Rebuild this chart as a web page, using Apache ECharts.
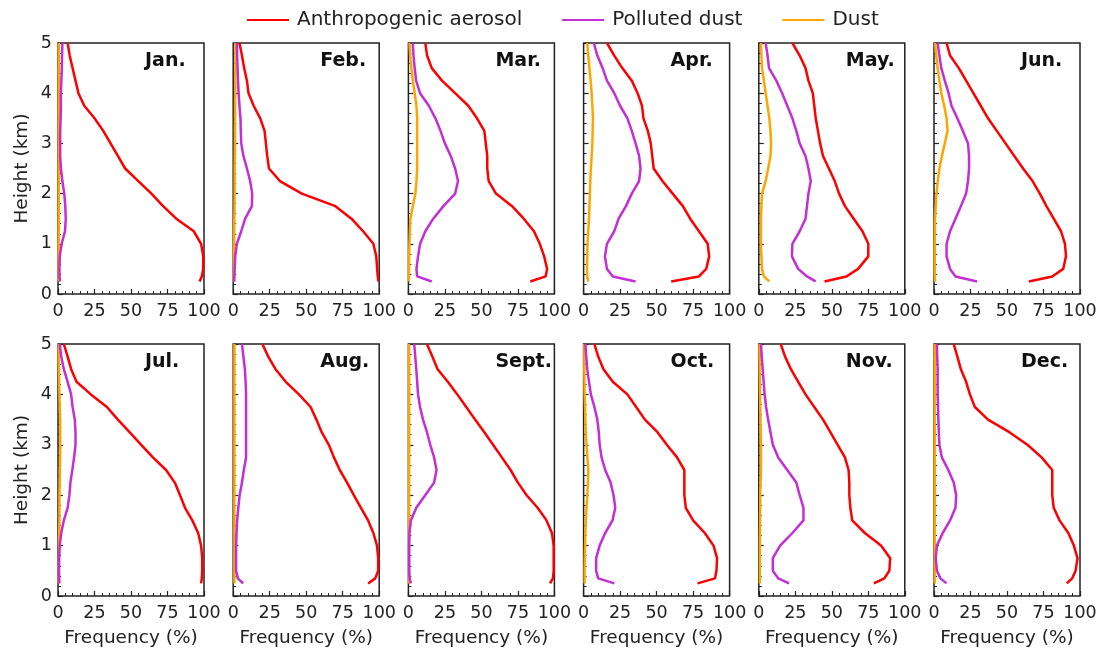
<!DOCTYPE html>
<html>
<head>
<meta charset="utf-8">
<script src="https://cdn.jsdelivr.net/npm/echarts@6/dist/echarts.min.js"></script>
<style>html,body{margin:0;padding:0;background:#fff;}#c{width:1106px;height:655px;}</style>
</head>
<body>
<div id="c"></div>
<script>
// Heights (km), bottom to top
const heights = [0.25, 0.35, 0.5, 0.75, 1.0, 1.25, 1.5, 1.75, 2.0, 2.25, 2.5, 2.75, 3.0, 3.25, 3.5, 3.75, 4.0, 4.25, 4.5, 4.75, 5.0];
const months = ['Jan.', 'Feb.', 'Mar.', 'Apr.', 'May.', 'Jun.', 'Jul.', 'Aug.', 'Sept.', 'Oct.', 'Nov.', 'Dec.'];
const xTicks = [0, 25, 50, 75, 100];
const yTicks = [0, 1, 2, 3, 4, 5];
const seriesNames = ['Anthropogenic aerosol', 'Polluted dust', 'Dust'];

// Frequency (%) per month, at the heights above
const anthropogenic = [
  [97, 98.5, 99.5, 99.5, 98, 93, 81, 72, 64, 55, 46, 41, 36, 31, 25, 18, 14, 12, 10, 8, 6.6],
  [99.5, 99, 98.6, 98, 96, 89, 81, 70, 47, 32, 24.5, 23.3, 22.4, 21.5, 18.5, 14, 10.5, 9.4, 7.5, 6, 4.3],
  [83.5, 94, 95, 93, 90, 86, 79, 71, 60, 55, 54, 54, 53, 52, 47, 41, 32, 23, 16, 12.8, 11.6],
  [60, 79, 84, 86, 85, 79, 73, 68, 61, 54, 48, 47, 46, 44, 41, 40, 37, 33, 26.5, 21, 16],
  [45, 60, 68, 75, 75, 71, 65, 59, 55, 52, 48, 44, 42, 40.5, 39, 38, 37, 34, 32, 28, 23],
  [65, 81, 88.5, 90.4, 89.7, 87, 82, 77, 72.5, 67.5, 61, 55, 49, 43, 37, 32, 27, 22, 17, 11, 8.6],
  [98, 98.5, 98.8, 98.8, 98, 96, 92, 87, 83.6, 80, 74, 65, 57, 49, 41, 33.5, 22.5, 12.7, 9, 6.6, 4],
  [92.4, 97.3, 99.3, 99.3, 98.5, 96, 92.4, 87.5, 82.6, 78, 73, 69, 65.5, 60.6, 57, 53, 45, 36, 29, 24, 20],
  [97, 99, 99.5, 99.5, 99.5, 98.3, 94.6, 88.5, 81, 75, 70, 64, 58, 52, 45.7, 39.6, 33.5, 27, 20, 16.4, 12.7],
  [78, 90, 91, 91.4, 89, 83, 75, 70, 69, 69, 69, 64, 57, 50.6, 42, 36, 30, 20, 13.6, 10, 7.4],
  [78.8, 86, 89.4, 90, 83.7, 72.6, 64, 62.7, 62, 62, 61.5, 59, 54, 49, 44, 38, 32, 27, 22, 18, 15],
  [91, 94.6, 97, 98.3, 95.8, 92, 86, 82, 81, 81, 81, 73.7, 64, 51.6, 37, 28, 24.6, 22, 18.4, 16, 13.5]
];
const pollutedDust = [
  [1.4, 1, 1, 1.2, 2.5, 4.8, 5.3, 5, 4.3, 3, 2, 1.5, 1.5, 1.5, 1.8, 2, 2, 2.3, 2.6, 2.8, 3],
  [0.7, 0.8, 1, 1.4, 2.5, 5.5, 8.2, 12.8, 13, 11.6, 9.4, 7, 5.5, 5.2, 5, 4.3, 3.7, 3.3, 3, 2.7, 2.5],
  [16, 6, 5.5, 6.6, 8, 11.6, 17, 24, 32, 34, 32, 29, 25, 22, 18.5, 14, 8, 5.3, 4.3, 3.5, 3],
  [35.6, 20, 16, 14.6, 16, 21, 24, 29, 33, 38, 39, 38, 35.6, 33, 30, 25, 21, 16, 13, 9.4, 7],
  [39, 33, 27, 22.7, 23, 28, 32, 33, 34, 35.6, 34, 32, 28, 25.7, 23, 19.5, 16, 12, 7, 6, 4.7],
  [29.5, 14.7, 11, 8.6, 8.6, 11, 14.7, 18.4, 22, 23.3, 24, 24, 23.3, 19.7, 16, 12, 10, 7.4, 5, 3.7, 2.5],
  [1, 0.8, 0.7, 0.8, 1.2, 2.2, 4, 6.6, 7.8, 8.5, 9.8, 11, 12, 12, 11.5, 10, 9, 6.6, 4, 2.2, 1.2],
  [6.8, 3.2, 2, 2, 2, 2.3, 2.7, 3.5, 4.4, 6, 7.3, 8.8, 8.8, 8.8, 8.8, 8.8, 8.8, 8.5, 8, 7, 6],
  [1.7, 0.8, 0.5, 0.5, 0.5, 0.7, 1.7, 5.4, 11.5, 17.6, 19.3, 17.6, 15, 12.7, 10, 8, 6.6, 6, 5.4, 4.7, 4],
  [21, 10, 8.6, 8.6, 11, 14.8, 19.8, 21.7, 20.5, 18.5, 14.8, 12.3, 11, 10.4, 9.4, 7.4, 5, 3.7, 2.5, 1.8, 1.2],
  [20.7, 13.3, 9.6, 9.6, 14.6, 23, 30.6, 30.6, 28, 25.7, 19.5, 13.3, 9.6, 8, 6.4, 5, 4, 3.3, 2.7, 2, 1.5],
  [8.6, 4.4, 2, 1.2, 2, 6, 11, 14.7, 15.2, 13.5, 9.8, 5.4, 3.7, 3.3, 3, 2.8, 2.5, 2.5, 2.5, 2.2, 2]
];
const dust = [
  [0.4, 0.4, 0.4, 0.4, 0.4, 0.5, 0.5, 0.5, 0.5, 0.5, 0.5, 0.5, 0.5, 0.5, 0.5, 0.5, 0.5, 0.5, 0.5, 0.5, 0.5],
  [0.5, 0.5, 0.5, 0.5, 0.6, 0.7, 0.8, 0.9, 1, 1, 1, 1.1, 1.2, 1.2, 1.3, 1.3, 1.4, 1.4, 1.5, 1.5, 1.5],
  [0.3, 0.3, 0.4, 0.5, 0.7, 1, 1.4, 3, 4.8, 5.5, 6, 6, 6, 6, 6, 5.5, 4.3, 3, 2, 1.2, 0.7],
  [3.2, 2.5, 2.3, 2.5, 2.7, 3.2, 3.7, 4, 4.3, 4.6, 5, 5.5, 6, 6.2, 6.4, 6, 5.5, 4.8, 4, 3.2, 2.5],
  [7.2, 3.5, 2.2, 1.8, 1.5, 1.5, 1.5, 1.8, 2.2, 4.7, 6.4, 8, 8.4, 8, 7.2, 6, 4.7, 3.5, 2.2, 1.8, 1.5],
  [0.7, 0.6, 0.5, 0.5, 0.5, 0.6, 0.7, 1.2, 1.7, 2.6, 3.7, 5.4, 7.4, 9.3, 8.6, 7, 5, 3.7, 2.5, 1.5, 0.7],
  [0.5, 0.5, 0.5, 0.6, 0.7, 0.8, 1, 1, 1, 1.2, 1.3, 1.5, 1.5, 1.5, 1.5, 1.2, 1, 0.8, 0.6, 0.5, 0.5],
  [0.8, 0.8, 0.8, 0.8, 0.8, 0.8, 0.8, 0.8, 0.8, 0.8, 0.8, 0.8, 0.8, 0.8, 0.8, 0.8, 0.8, 0.8, 0.8, 0.8, 0.8],
  [0.5, 0.5, 0.5, 0.5, 0.5, 0.5, 0.5, 0.5, 0.5, 0.5, 0.5, 0.5, 0.5, 0.5, 0.5, 0.5, 0.5, 0.5, 0.5, 0.5, 0.5],
  [0.7, 0.7, 0.7, 0.8, 1, 1.2, 1.5, 2, 2.5, 3, 3.2, 2.6, 2, 1.5, 1.2, 1, 0.7, 0.6, 0.5, 0.5, 0.5],
  [0.7, 0.7, 0.7, 0.7, 0.7, 0.8, 0.9, 1, 1, 1.2, 1.5, 1.5, 1.5, 1.3, 1.2, 1, 0.8, 0.7, 0.6, 0.5, 0.5],
  [0.5, 0.5, 0.5, 0.5, 0.5, 0.5, 0.5, 0.5, 0.5, 0.5, 0.5, 0.5, 0.5, 0.5, 0.5, 0.5, 0.5, 0.5, 0.5, 0.5, 0.5]
];

const colors = ['#ff0000', '#c42ed6', '#ffa500'];
const FONT = 'DejaVu Sans';
const PW = 146, PH = 252;
const panelLeft = i => 58 + (i % 6) * 175.2;
const panelTop = i => (i < 6 ? 43 : 344);

const grid = [], xAxis = [], yAxis = [], series = [], graphic = [];
const groups = [anthropogenic, pollutedDust, dust];
for (let i = 0; i < 12; i++) {
  const bottomRow = i >= 6, firstCol = i % 6 === 0;
  grid.push({left: panelLeft(i), top: panelTop(i), width: PW, height: PH - (bottomRow ? 0 : 1),
    show: true, borderColor: '#222', borderWidth: 1.5, backgroundColor: 'transparent'});
  xAxis.push({type: 'value', gridIndex: i, min: xTicks[0], max: xTicks[xTicks.length - 1], interval: 25,
    axisLine: {show: false}, splitLine: {show: false},
    axisTick: {show: true, inside: true, length: 5, lineStyle: {color: '#222', width: 1.2}},
    minorTick: {show: true, splitNumber: 5, length: 3, lineStyle: {color: '#222', width: 1}},
    axisLabel: {fontFamily: FONT, fontSize: 17.5, color: '#222', margin: 8, showMaxLabel: true, showMinLabel: true},
    name: bottomRow ? 'Frequency (%)' : '', nameLocation: 'middle', nameGap: 33,
    nameTextStyle: {fontFamily: FONT, fontSize: 18.5, color: '#222'}});
  yAxis.push({type: 'value', gridIndex: i, min: yTicks[0], max: yTicks[yTicks.length - 1], interval: 1,
    axisLine: {show: false}, splitLine: {show: false},
    axisTick: {show: true, inside: true, length: 5, lineStyle: {color: '#222', width: 1.2}},
    minorTick: {show: true, splitNumber: 5, length: 3, lineStyle: {color: '#222', width: 1}},
    axisLabel: {show: firstCol, fontFamily: FONT, fontSize: 17.5, color: '#222', margin: 6},
    name: firstCol ? 'Height (km)' : '', nameLocation: 'middle', nameGap: 26, nameRotate: 90,
    nameTextStyle: {fontFamily: FONT, fontSize: 18.5, color: '#222'}});
  for (let k = 2; k >= 0; k--) {
    series.push({type: 'line', name: seriesNames[k], xAxisIndex: i, yAxisIndex: i,
      data: groups[k][i].map((v, j) => [v, heights[j]]),
      showSymbol: false, symbol: 'none', smooth: false, clip: true,
      lineStyle: {color: colors[k], width: 2.5}, itemStyle: {color: colors[k]}, z: 3 + (2 - k)});
  }
  graphic.push({type: 'text', left: panelLeft(i) + 87, top: panelTop(i) + 9,
    style: {text: months[i], font: 'bold 19px "DejaVu Sans"', fill: '#111'}, z: 10});
}

const chart = echarts.init(document.getElementById('c'), null, {renderer: 'canvas'});
chart.setOption({
  animation: false,
  backgroundColor: '#fff',
  legend: {left: 242, top: 5, itemWidth: 42, itemHeight: 2, itemGap: 40, icon: 'rect',
    data: seriesNames.map((n, k) => ({name: n, itemStyle: {color: colors[k]}})),
    textStyle: {fontFamily: FONT, fontSize: 20, color: '#222', padding: [0, 0, 0, 3]}},
  grid, xAxis, yAxis, series, graphic
});
</script>
</body>
</html>
